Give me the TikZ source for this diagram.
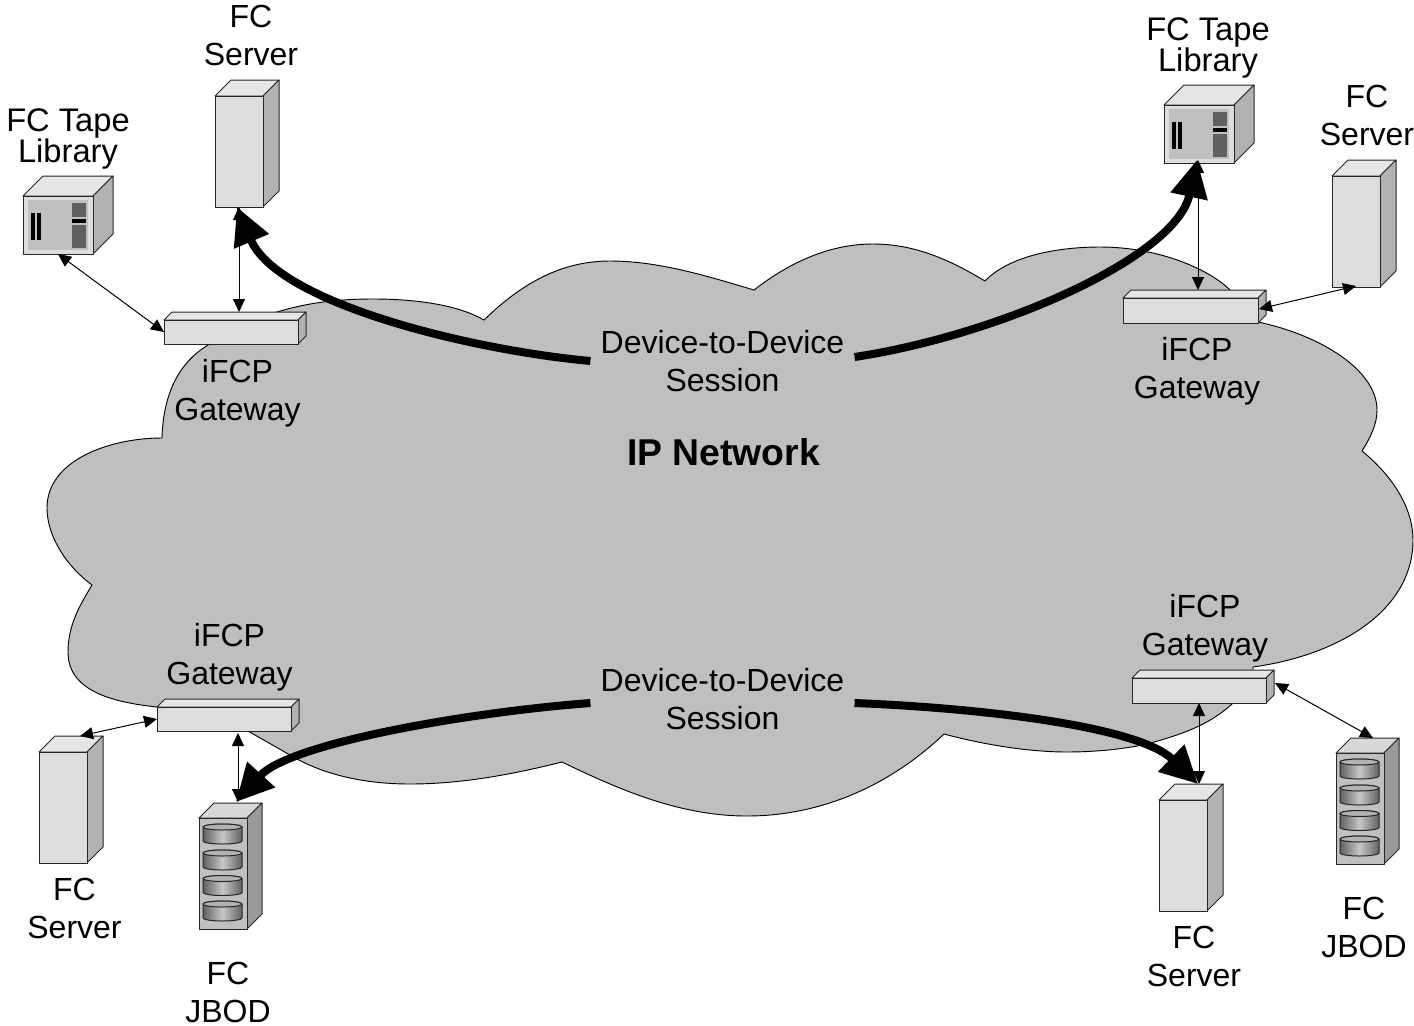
\documentclass[tikz,border=0pt]{standalone}
\usepackage{fontspec}
\setmainfont{Liberation Sans}
\usetikzlibrary{arrows.meta}
\definecolor{cloudgray}{HTML}{BFBFBF}
\definecolor{facegray}{HTML}{DDDDDD}
\definecolor{topgray}{HTML}{E6E6E6}
\definecolor{sidegray}{HTML}{B2B2B2}
\definecolor{panelgray}{HTML}{C0C0C0}
\definecolor{darkblock}{HTML}{606060}
\definecolor{jsidegray}{HTML}{999999}
\definecolor{jtopgray}{HTML}{D8D8D8}
\tikzset{
  cloudshape/.style={fill=cloudgray,draw=black,line width=0.7pt,line join=miter},
  edgeline/.style={draw=black!85,line width=0.75pt,line join=round},
  link/.style={draw=black,line width=0.75pt,{Triangle[length=9.75pt,width=9pt]}-{Triangle[length=9.75pt,width=9pt]}},
  session/.style={draw=black,line width=6pt,-{Triangle[length=28pt,width=27pt]}},
  lbl/.style={font=\fontsize{24}{28.5}\selectfont,align=center,inner sep=0pt},
  tapelbl/.style={font=\fontsize{24.5}{23}\selectfont,align=center,inner sep=0pt},
  sesslbl/.style={font=\fontsize{24}{28.5}\selectfont,align=center,inner xsep=7.5pt,inner ysep=0pt},
  titlelbl/.style={font=\fontsize{28}{32}\selectfont\bfseries,align=center,inner sep=0pt},
}
% name, x, y, w, h, depth, face, top, side
\newcommand\devbox[9]{%
  \path[edgeline,fill=#8] (#2,#3) -- ++(#6,-#6) -- ++(#4,0) -- ++(-#6,#6) -- cycle;
  \path[edgeline,fill=#9] (#2+#4,#3) -- ++(#6,-#6) -- ++(0,#5) -- ++(-#6,#6) -- cycle;
  \node[edgeline,fill=#7,anchor=north west,inner sep=0pt,outer sep=0pt,
        minimum width=#4*0.75pt,minimum height=#5*0.75pt] (#1) at (#2,#3) {};
}
\newcommand\server[3]{\devbox{#1}{#2}{#3}{48}{111}{16}{facegray}{topgray}{sidegray}}
\newcommand\gateway[5]{\devbox{#1}{#2}{#3}{#4}{#5}{8}{facegray}{topgray}{sidegray}}
\newcommand\tapelib[3]{%
  \devbox{#1}{#2}{#3}{70}{58}{20}{facegray}{topgray}{sidegray}
  \begin{scope}[shift={(#2,#3)}]
    \fill[panelgray] (5,4) rectangle (65,54);
    \fill[darkblock] (49,7) rectangle (63,21);
    \fill[black] (49,23) rectangle (63,27);
    \fill[darkblock] (49,29) rectangle (63,52);
    \fill[black] (8,17) rectangle (12,44);
    \fill[black] (14,17) rectangle (18,44);
  \end{scope}}
\newcommand\disk[1]{%
  \path[edgeline,left color=black!62,right color=black!62,middle color=black!22]
    (4,#1+3) -- (4,#1+17) arc[start angle=180,end angle=0,x radius=19.5,y radius=3] -- (43,#1+3)
    arc[start angle=0,end angle=-180,x radius=19.5,y radius=3] -- cycle;
  \path[edgeline,fill=black!30] (23.5,#1+3) ellipse[x radius=19.5,y radius=3];
}
\newcommand\jbod[3]{%
  \devbox{#1}{#2}{#3}{48}{111}{15}{panelgray}{jtopgray}{jsidegray}
  \begin{scope}[shift={(#2,#3)}]
    \disk{6}\disk{32}\disk{57.5}\disk{83}
  \end{scope}}
\begin{document}
\begin{tikzpicture}[x=0.75pt,y=-0.75pt]
\useasboundingbox (0,0) rectangle (1414,1025);
% cloud
\path[cloudshape] (162,438)
  .. controls (163,400) and (175,365) .. (208,345)
  .. controls (225,330) and (250,318) .. (277,312)
  .. controls (310,302) and (340,299) .. (373,299)
  .. controls (420,299) and (460,306) .. (484,320)
  .. controls (525,280) and (565,261) .. (610,261)
  .. controls (660,261) and (710,277) .. (754,290)
  .. controls (790,262) and (830,244) .. (873,244)
  .. controls (915,244) and (950,260) .. (985,281)
  .. controls (1010,255) and (1060,247) .. (1100,247)
  .. controls (1160,247) and (1210,270) .. (1230,290)
  -- (1240,322) -- (1258,322)
  .. controls (1320,335) and (1377,370) .. (1377,410)
  .. controls (1377,425) and (1370,438) .. (1362,451)
  .. controls (1395,478) and (1413,510) .. (1413,540)
  .. controls (1413,610) and (1340,655) .. (1253,667)
  -- (1253,672) -- (1240,700) -- (1233,703)
  .. controls (1210,725) and (1180,735) .. (1147,744)
  .. controls (1120,750) and (1090,752) .. (1067,752)
  .. controls (1030,752) and (985,745) .. (944,734)
  .. controls (885,790) and (815,816) .. (747,816)
  .. controls (680,816) and (620,790) .. (562,762)
  .. controls (510,775) and (460,784) .. (410,784)
  .. controls (360,784) and (320,773) .. (290,755)
  -- (248,731) -- (200,720) -- (157,707)
  .. controls (110,702) and (68,690) .. (68,652)
  .. controls (68,625) and (80,605) .. (92,585)
  .. controls (65,565) and (47,535) .. (47,508)
  .. controls (47,460) and (110,438) .. (162,438)
  -- cycle;
% devices
\server{srvA}{215}{96}
\server{srvB}{1332}{176}
\server{srvC}{39}{752}
\server{srvD}{1159}{800}
\tapelib{tapeA}{23}{196}
\tapelib{tapeB}{1164}{105}
\jbod{jbodA}{199}{818}
\jbod{jbodB}{1336}{753}
\gateway{gwA}{164}{320}{134}{24}
\gateway{gwB}{1123}{298}{135}{25}
\gateway{gwC}{157}{707}{134}{24}
\gateway{gwD}{1132}{678}{134}{25}
% labels
\node[lbl] (lSrvA) at (251,35) {FC\\Server};
\node[tapelbl] (lTapeA) at (68,139) {FC Tape\\Library};
\node[tapelbl] (lTapeB) at (1208,48) {FC Tape\\Library};
\node[lbl] (lSrvB) at (1367,115) {FC\\Server};
\node[lbl] (lGwA) at (237.5,393) {iFCP\\Gateway};
\node[lbl] (lGwB) at (1197,371) {iFCP\\Gateway};
\node[lbl] (lGwC) at (229.5,657) {iFCP\\Gateway};
\node[lbl] (lGwD) at (1205,628) {iFCP\\Gateway};
\node[sesslbl] (sessT) at (722.5,361) {Device-to-Device\\Session};
\node[sesslbl] (sessB) at (722.5,699) {Device-to-Device\\Session};
\node[titlelbl] (net) at (723.5,452) {IP Network};
\node[lbl] (lSrvC) at (74.5,908) {FC\\Server};
\node[lbl] (lJbodA) at (228,992) {FC\\JBOD};
\node[lbl] (lSrvD) at (1194,956) {FC\\Server};
\node[lbl] (lJbodB) at (1364,927) {FC\\JBOD};
% ports for the links
\coordinate (pTapeA) at (58,254);   \coordinate (pGwAw) at (164,332);
\coordinate (pSrvA) at (239,207);   \coordinate (pGwAn) at (239,312);
\coordinate (pTapeB) at (1198,160); \coordinate (pGwBn) at (1198,290);
\coordinate (pSrvB) at (1356,286);  \coordinate (pGwBe) at (1259,309);
\coordinate (pSrvC) at (80,736);    \coordinate (pGwCw) at (157,719);
\coordinate (pJbodA) at (238,802);  \coordinate (pGwCs) at (238,733);
\coordinate (pGwDs) at (1199,703);  \coordinate (pSrvD) at (1199,784);
\coordinate (pGwDe) at (1275,683);  \coordinate (pJbodB) at (1373,738);
\draw[link] (pTapeA) -- (pGwAw);
\draw[link] (pSrvA) -- (pGwAn);
\draw[link] (pTapeB) -- (pGwBn);
\draw[link] (pSrvB) -- (pGwBe);
\draw[link] (pSrvC) -- (pGwCw);
\draw[link] (pJbodA) -- (pGwCs);
\draw[link] (pGwDs) -- (pSrvD);
\draw[link] (pGwDe) -- (pJbodB);
% sessions
\coordinate (tipA) at (237,207);
\coordinate (tipB) at (1197,160);
\coordinate (tipC) at (236,802);
\coordinate (tipD) at (1198,784);
\draw[session] (sessT.west) .. controls (470,350) and (277.5,303) .. (tipA);
\draw[session] ([yshift=3pt]sessT.east) .. controls (1000,335) and (1176,257) .. (tipB);
\draw[session] ([yshift=-3pt]sessB.west) .. controls (470,712) and (290,743) .. (tipC);
\draw[session] ([yshift=-3pt]sessB.east) .. controls (980,708) and (1138,726) .. (tipD);
\end{tikzpicture}
\end{document}
